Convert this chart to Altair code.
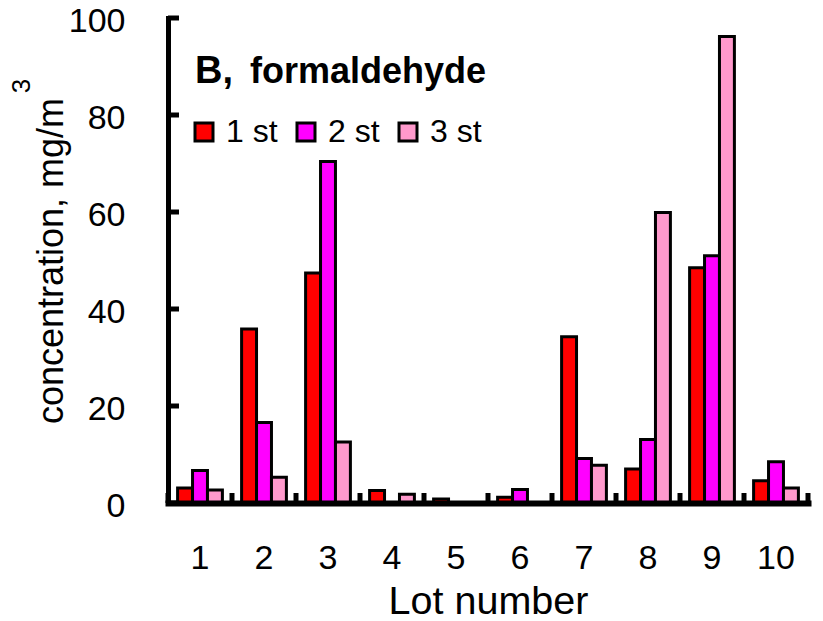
import altair as alt
import pandas as pd

# Formaldehyde concentration per lot, three sampling stages
lots = ["1", "2", "3", "4", "5", "6", "7", "8", "9", "10"]
stages = ["1 st", "2 st", "3 st"]
stage1 = [3.1, 35.9, 47.4, 2.6, 0.8, 1.2, 34.3, 7.0, 48.5, 4.6]
stage2 = [6.7, 16.6, 70.4, 0.0, 0.0, 2.8, 9.2, 13.1, 51.0, 8.5]
stage3 = [2.7, 5.3, 12.6, 1.8, 0.0, 0.0, 7.8, 59.9, 96.2, 3.1]
stage_colors = ["#ff0000", "#ff00ff", "#ff99cc"]
y_ticks = [0, 20, 40, 60, 80, 100]

FONT = "Liberation Sans"
W, H = 640, 485

rows = []
for stage, vals in zip(stages, [stage1, stage2, stage3]):
    for lot, v in zip(lots, vals):
        rows.append({"lot": lot, "stage": stage, "value": v})
df = pd.DataFrame(rows)

x_enc = alt.X(
    "lot:N",
    sort=lots,
    scale=alt.Scale(paddingInner=0, paddingOuter=0),
    axis=alt.Axis(
        title="Lot number",
        labelAngle=0,
        labelFontSize=34,
        labelPadding=55,
        labelBaseline="middle",
        labelColor="black",
        ticks=False,
        tickSize=0,
        domainWidth=6,
        domainColor="black",
        titleFontSize=39.5,
        titleFontWeight="normal",
        titleColor="black",
        titleX=W / 2,
        titleY=110,
        titleBaseline="alphabetic",
        zindex=1,
    ),
)

y_enc = alt.Y(
    "value:Q",
    scale=alt.Scale(domain=[0, 100], nice=False),
    axis=alt.Axis(
        title="concentration, mg/m",
        values=y_ticks,
        labelFontSize=34,
        labelPadding=43,
        labelOffset=3,
        labelColor="black",
        ticks=False,
        tickSize=0,
        domainWidth=5,
        domainColor="black",
        grid=False,
        titleFontSize=36,
        titleFontWeight="normal",
        titleColor="black",
        titleAngle=270,
        titleX=-106,
        titleY=H / 2,
        titleBaseline="alphabetic",
        zindex=1,
    ),
)

bars = alt.Chart(df).mark_bar(stroke="black", strokeWidth=3, opacity=1).encode(
    x=x_enc,
    xOffset=alt.XOffset(
        "stage:N",
        sort=stages,
        scale=alt.Scale(paddingOuter=0.643, paddingInner=0),
    ),
    y=y_enc,
    color=alt.Color(
        "stage:N",
        sort=stages,
        scale=alt.Scale(domain=stages, range=stage_colors),
        legend=alt.Legend(
            title=None,
            orient="none",
            legendX=20,
            legendY=98,
            direction="horizontal",
            symbolType="square",
            symbolSize=324,
            symbolStrokeColor="black",
            symbolStrokeWidth=3,
            symbolOpacity=1,
            labelFontSize=32,
            labelColor="black",
            labelOffset=6,
            columnPadding=12,
        ),
    ),
)

# inward ticks on the value axis
y_tick_df = pd.DataFrame({"value": y_ticks})
y_tick_marks = alt.Chart(y_tick_df).mark_rule(color="black", strokeWidth=5).encode(
    y="value:Q", x=alt.value(0), x2=alt.value(11)
)

# inward ticks between lots on the category axis
lot_df = pd.DataFrame({"lot": lots})
x_tick_marks = alt.Chart(lot_df).mark_rule(color="black", strokeWidth=5).encode(
    x=alt.X("lot:N", sort=lots, bandPosition=0),
    y=alt.value(H),
    y2=alt.value(H - 10),
)
end_df = pd.DataFrame({"lot": lots[-1:]})
x_end_tick = alt.Chart(end_df).mark_rule(color="black", strokeWidth=5).encode(
    x=alt.X("lot:N", sort=lots, bandPosition=1),
    y=alt.value(H),
    y2=alt.value(H - 10),
)

panel_letter = alt.Chart(pd.DataFrame({"t": ["B,"]})).mark_text(
    fontSize=38, fontWeight="bold", align="left", baseline="alphabetic", color="black"
).encode(text="t:N", x=alt.value(27), y=alt.value(65))

panel_name = alt.Chart(pd.DataFrame({"t": ["formaldehyde"]})).mark_text(
    fontSize=36, fontWeight="bold", align="left", baseline="alphabetic", color="black"
).encode(text="t:N", x=alt.value(82), y=alt.value(65))

unit_sup = alt.Chart(pd.DataFrame({"t": ["3"]})).mark_text(
    fontSize=26, angle=270, align="center", baseline="alphabetic", color="black"
).encode(text="t:N", x=alt.value(-138), y=alt.value(68))

chart = (
    alt.layer(
        bars, y_tick_marks, x_tick_marks, x_end_tick, panel_letter, panel_name, unit_sup
    )
    .properties(
        width=W,
        height=H,
        autosize=alt.AutoSizeParams(type="none"),
        padding={"left": 168, "top": 18, "right": 15, "bottom": 118},
    )
    .configure(font=FONT)
    .configure_view(strokeWidth=0)
    .configure_axis(domainCap="square")
)

chart.save("out.html", embed_options={"renderer": "svg", "actions": False})
